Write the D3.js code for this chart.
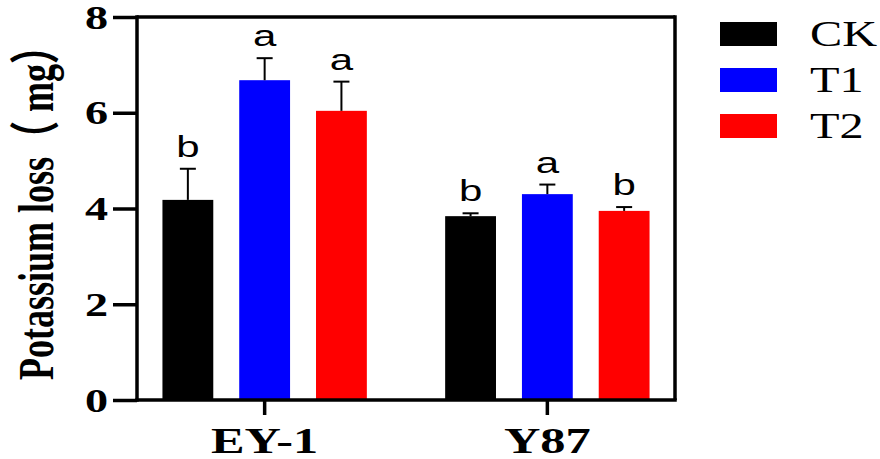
<!DOCTYPE html>
<html>
<head>
<meta charset="utf-8">
<script src="https://cdn.jsdelivr.net/npm/d3@7"></script>
<style>
  html, body { margin: 0; padding: 0; background: #fff; }
  svg { display: block; }
</style>
</head>
<body>
<svg id="chart" width="880" height="459"></svg>
<script>
// ---- data ----
const groups = ["EY-1", "Y87"];
const seriesNames = ["CK", "T1", "T2"];
const seriesColors = ["#000000", "#0000ff", "#ff0000"];
const ckValues = [4.18, 3.84];
const t1Values = [6.68, 4.30];
const t2Values = [6.04, 3.95];
const ckErrors = [0.65, 0.06];
const t1Errors = [0.46, 0.20];
const t2Errors = [0.61, 0.08];
const ckLetters = ["b", "b"];
const t1Letters = ["a", "a"];
const t2Letters = ["a", "b"];
const yTicks = [0, 2, 4, 6, 8];
const yLabel = "Potassium loss\uFF08 mg\uFF09";

const valuesBySeries = [ckValues, t1Values, t2Values];
const errorsBySeries = [ckErrors, t1Errors, t2Errors];
const lettersBySeries = [ckLetters, t1Letters, t2Letters];

const rows = [];
groups.forEach((g, gi) => {
  seriesNames.forEach((s, si) => {
    rows.push({ group: g, series: s, color: seriesColors[si],
      value: valuesBySeries[si][gi], err: errorsBySeries[si][gi], letter: lettersBySeries[si][gi] });
  });
});

// ---- layout ----
const SX = 1.4; // horizontal text stretch seen in the reference
const mLeft = 137, mRight = 675, mTop = 17, mBottom = 400;
const svg = d3.select("#chart");

const y = d3.scaleLinear().domain([0, 8]).range([mBottom, mTop]);
const x0 = d3.scaleBand().domain(groups).range([mLeft, mRight]).paddingInner(0.277).paddingOuter(0.09);
const x1 = d3.scaleBand().domain(seriesNames).range([0, x0.bandwidth()]).paddingInner(0.338).paddingOuter(0);

// bars
svg.append("g").selectAll("rect").data(rows).join("rect")
  .attr("x", d => x0(d.group) + x1(d.series))
  .attr("y", d => y(d.value))
  .attr("width", x1.bandwidth())
  .attr("height", d => y(0) - y(d.value))
  .attr("fill", d => d.color);

// error bars (upper only)
const eb = svg.append("g").attr("stroke", "#000").attr("stroke-width", 2);
rows.forEach(d => {
  const cx = x0(d.group) + x1(d.series) + x1.bandwidth() / 2;
  eb.append("line").attr("x1", cx).attr("x2", cx).attr("y1", y(d.value)).attr("y2", y(d.value + d.err));
  eb.append("line").attr("x1", cx - 8).attr("x2", cx + 8).attr("y1", y(d.value + d.err)).attr("y2", y(d.value + d.err));
});

// significance letters
svg.append("g").selectAll("text").data(rows).join("text")
  .attr("transform", d => `translate(${x0(d.group) + x1(d.series) + x1.bandwidth() / 2},${y(d.value + d.err) - 12}) scale(${SX},1)`)
  .attr("text-anchor", "middle")
  .attr("font-family", "'Liberation Sans', Arial, sans-serif")
  .attr("font-size", 30)
  .attr("fill", "#000")
  .text(d => d.letter);

// frame: top and right lines
svg.append("line").attr("x1", mLeft).attr("x2", mRight).attr("y1", mTop).attr("y2", mTop)
  .attr("stroke", "#000").attr("stroke-width", 3.5);
svg.append("line").attr("x1", mRight).attr("x2", mRight).attr("y1", mTop - 1.75).attr("y2", mBottom)
  .attr("stroke", "#000").attr("stroke-width", 3.5);

// y axis
const yAxis = svg.append("g").attr("transform", `translate(${mLeft},0)`)
  .call(d3.axisLeft(y).tickValues(yTicks).tickSize(24).tickSizeOuter(0).tickFormat(d3.format("d")));
yAxis.select(".domain").attr("stroke-width", 3.5).attr("d", `M0,${mTop - 1.75}V${mBottom + 1.75}`);
yAxis.selectAll(".tick line").attr("stroke-width", 3.5);
yAxis.selectAll(".tick text")
  .attr("x", null).attr("dy", null)
  .attr("transform", `translate(-29,11) scale(${SX},1)`)
  .attr("text-anchor", "end")
  .attr("font-family", "'Liberation Serif', 'Times New Roman', serif")
  .attr("font-weight", "bold")
  .attr("font-size", 33)
  .attr("fill", "#000");

// x axis
const xAxis = svg.append("g").attr("transform", `translate(0,${mBottom})`)
  .call(d3.axisBottom(x0).tickSize(15).tickSizeOuter(0));
xAxis.select(".domain").attr("stroke-width", 3.5).attr("d", `M${mLeft - 1.75},0H${mRight + 1.75}`);
xAxis.selectAll(".tick line").attr("stroke-width", 3.5);
xAxis.selectAll(".tick text")
  .attr("y", null).attr("dy", null)
  .attr("transform", `translate(0,53) scale(${SX},1)`)
  .attr("text-anchor", "middle")
  .attr("font-family", "'Liberation Serif', 'Times New Roman', serif")
  .attr("font-weight", "bold")
  .attr("font-size", 36)
  .attr("fill", "#000");

// y label
svg.append("text")
  .attr("transform", `translate(53,380) scale(${SX},1) rotate(-90)`)
  .attr("text-anchor", "start")
  .attr("font-family", "'Liberation Serif', 'Times New Roman', 'Noto Sans CJK SC', serif")
  .attr("font-weight", "bold")
  .attr("font-size", 36)
  .attr("fill", "#000")
  .text(yLabel);

// legend
const legend = svg.append("g");
seriesNames.forEach((s, i) => {
  const ly = 22 + i * 46;
  legend.append("rect").attr("x", 720).attr("y", ly).attr("width", 57).attr("height", 24).attr("fill", seriesColors[i]);
  legend.append("text")
    .attr("transform", `translate(810,${ly + 24}) scale(1.38,1)`)
    .attr("font-family", "'Liberation Serif', 'Times New Roman', serif")
    .attr("font-size", 35)
    .attr("fill", "#000")
    .text(s);
});
</script>
</body>
</html>
